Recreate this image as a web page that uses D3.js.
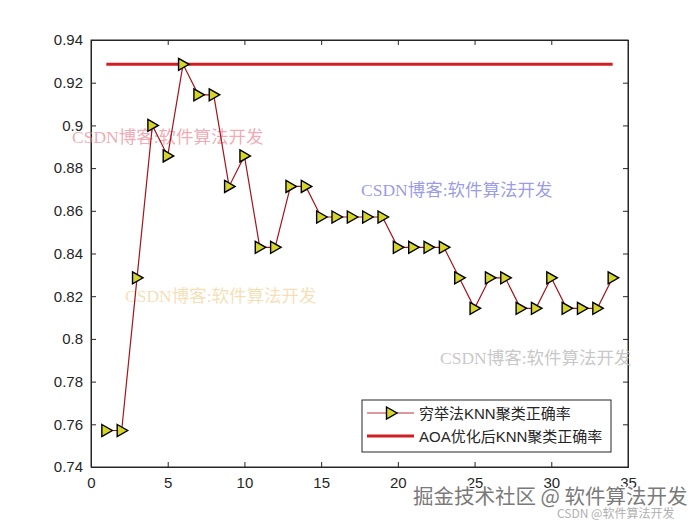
<!DOCTYPE html>
<html><head><meta charset="utf-8">
<script src="https://cdn.jsdelivr.net/npm/d3@7"></script>
<style>body{margin:0;background:#fff}svg{display:block}</style>
</head><body><div id="c"></div>
<script>
const xs = [1,2,3,4,5,6,7,8,9,10,11,12,13,14,15,16,17,18,19,20,21,22,23,24,25,26,27,28,29,30,31,32,33,34];
const exhaustive = [0.7571,0.7571,0.8286,0.9000,0.8857,0.9286,0.9143,0.9143,0.8714,0.8857,0.8429,0.8429,0.8714,0.8714,0.8571,0.8571,0.8571,0.8571,0.8571,0.8429,0.8429,0.8429,0.8429,0.8286,0.8143,0.8286,0.8286,0.8143,0.8143,0.8286,0.8143,0.8143,0.8143,0.8286];
const aoaBest = 0.9286;
const xTicks = [0,5,10,15,20,25,30,35];
const yTicks = [0.74,0.76,0.78,0.8,0.82,0.84,0.86,0.88,0.9,0.92,0.94];
const legendLabels = ["穷举法KNN聚类正确率","AOA优化后KNN聚类正确率"];
const watermarks = [
  {t:"CSDN博客:软件算法开发", x:72, y:143, c:"rgba(235,120,135,0.65)"},
  {t:"CSDN博客:软件算法开发", x:361, y:196, c:"rgba(110,110,220,0.7)"},
  {t:"CSDN博客:软件算法开发", x:125, y:302, c:"rgba(240,210,150,0.7)"},
  {t:"CSDN博客:软件算法开发", x:440, y:364, c:"rgba(185,185,185,0.8)"}
];

const W=700,H=525, L=91,R=628,T=40,B=467;
const svg=d3.select("#c").append("svg").attr("width",W).attr("height",H);
const x=d3.scaleLinear().domain([0,35]).range([L,R]);
const y=d3.scaleLinear().domain([0.74,0.94]).range([B,T]);
const font="'Liberation Sans', Arial, sans-serif";

svg.append("rect").attr("x",L).attr("y",T).attr("width",R-L).attr("height",B-T)
  .attr("fill","#fff").attr("stroke","#262626").attr("stroke-width",1);

const gx=svg.append("g").attr("transform",`translate(0,${B})`)
  .call(d3.axisBottom(x).tickValues(xTicks).tickSize(-5).tickPadding(10).tickFormat(d3.format("d")));
const gxt=svg.append("g").attr("transform",`translate(0,${T})`)
  .call(d3.axisTop(x).tickValues(xTicks).tickSize(-5).tickFormat(""));
const gy=svg.append("g").attr("transform",`translate(${L},0)`)
  .call(d3.axisLeft(y).tickValues(yTicks).tickSize(-5).tickPadding(8).tickFormat(d=>String(+d.toFixed(2))));
const gyr=svg.append("g").attr("transform",`translate(${R},0)`)
  .call(d3.axisRight(y).tickValues(yTicks).tickSize(-5).tickFormat(""));
[gx,gxt,gy,gyr].forEach(g=>{
  g.select(".domain").attr("stroke","#262626");
  g.selectAll(".tick line").attr("stroke","#262626");
  g.selectAll(".tick text").attr("fill","#262626").style("font-family",font).style("font-size","15px");
});

svg.selectAll("text.wm").data(watermarks).enter().append("text")
  .attr("x",d=>d.x).attr("y",d=>d.y).attr("fill",d=>d.c)
  .style("font-family","'Liberation Serif','Noto Sans CJK SC',serif").style("font-size","17.5px")
  .text(d=>d.t);

svg.append("line").attr("x1",x(1)).attr("x2",x(34)).attr("y1",y(aoaBest)).attr("y2",y(aoaBest))
  .attr("stroke","#d01f22").attr("stroke-width",3);

const line=d3.line().x((d,i)=>x(xs[i])).y(d=>y(d));
svg.append("path").datum(exhaustive).attr("d",line).attr("fill","none")
  .attr("stroke","#a3141c").attr("stroke-width",1.2);
const tri="M-4.5,-6 L6,0 L-4.5,6 Z";
svg.selectAll("path.mk").data(exhaustive).enter().append("path")
  .attr("d",tri).attr("transform",(d,i)=>`translate(${x(xs[i])},${y(d)})`)
  .attr("fill","#d6d62a").attr("stroke","#000").attr("stroke-width",1.4);

const lg=svg.append("g");
lg.append("rect").attr("x",362).attr("y",400).attr("width",249).attr("height",52)
  .attr("fill","#fff").attr("stroke","#262626").attr("stroke-width",1);
lg.append("line").attr("x1",367).attr("x2",414).attr("y1",413).attr("y2",413).attr("stroke","#c0303a").attr("stroke-width",1.2);
lg.append("path").attr("d",tri).attr("transform","translate(391,413)").attr("fill","#d6d62a").attr("stroke","#000").attr("stroke-width",1.4);
lg.append("line").attr("x1",367).attr("x2",414).attr("y1",436).attr("y2",436).attr("stroke","#d01f22").attr("stroke-width",3);
lg.selectAll("text.lt").data(legendLabels).enter().append("text")
  .attr("x",419).attr("y",(d,i)=>419+i*23).attr("fill","#262626")
  .style("font-family","'Liberation Sans','Noto Sans CJK SC',sans-serif").style("font-size","15px").text(d=>d);

svg.append("text").attr("x",413).attr("y",504).attr("fill","#7a7a7a").attr("stroke","#fff").attr("stroke-width",3).attr("paint-order","stroke")
  .style("font-family","'Noto Sans CJK SC',sans-serif").style("font-size","20.5px").text("掘金技术社区 @ 软件算法开发");
svg.append("text").attr("x",557).attr("y",518).attr("fill","#b0b0b0")
  .style("font-family","'Noto Sans CJK SC',sans-serif").style("font-size","12px").text("CSDN @软件算法开发");
</script></body></html>
